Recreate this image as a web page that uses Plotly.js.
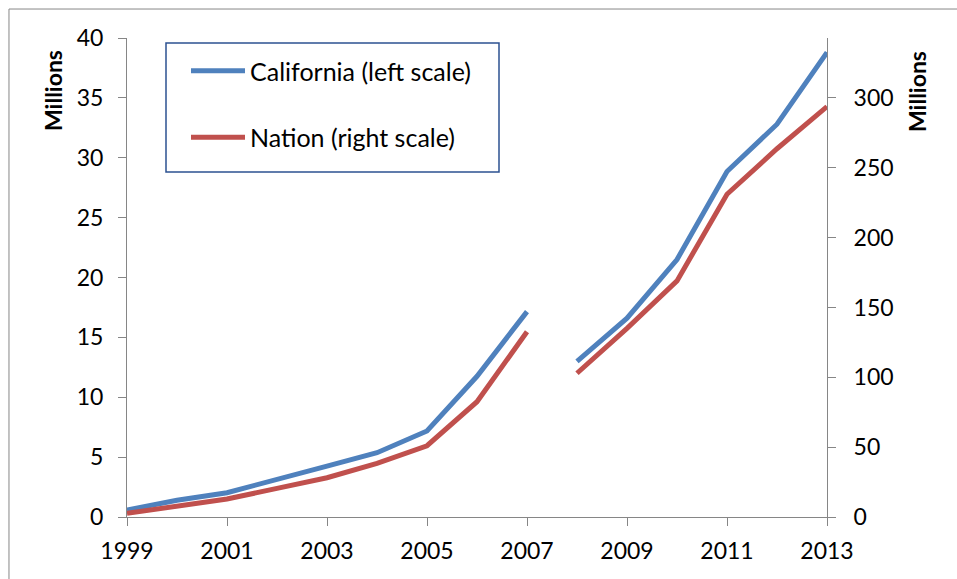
<!DOCTYPE html>
<html>
<head>
<meta charset="utf-8">
<script src="https://cdn.plot.ly/plotly-3.0.1.min.js"></script>
<style>
  html, body { margin: 0; padding: 0; background: #fff; }
  #chart { width: 957px; height: 579px; }
</style>
</head>
<body>
<div id="chart"></div>
<script>
// Years (the series break between 2007 and 2008)
const yearsEarly = [1999, 2000, 2001, 2002, 2003, 2004, 2005, 2006, 2007];
const yearsLate  = [2008, 2009, 2010, 2011, 2012, 2013];

// California, millions (left scale)
const californiaEarly = [0.58, 1.4, 2.03, 3.1, 4.25, 5.37, 7.18, 11.75, 17.15];
const californiaLate  = [13.0, 16.6, 21.5, 28.85, 32.8, 38.8];

// Nation, millions (right scale)
const nationEarly = [2.6, 7.4, 12.9, 20.5, 28.1, 38.4, 51.0, 82.5, 132.6];
const nationLate  = [102.9, 135.0, 169.0, 231.0, 263.6, 293.8];

const xTicks = [1999, 2001, 2003, 2005, 2007, 2009, 2011, 2013];
const leftTicks = [0, 5, 10, 15, 20, 25, 30, 35, 40];
const rightTicks = [0, 50, 100, 150, 200, 250, 300];

const BLUE = '#4F81BD';
const RED = '#C0504D';
const AXIS = '#868686';
const FONT = 'Lato, "Open Sans", "DejaVu Sans", sans-serif';

const traces = [
  { x: yearsEarly, y: californiaEarly, type: 'scatter', mode: 'lines', name: 'California (left scale)',
    legendgroup: 'ca', showlegend: true, line: { color: BLUE, width: 5 }, yaxis: 'y', cliponaxis: false },
  { x: yearsLate, y: californiaLate, type: 'scatter', mode: 'lines', name: 'California (left scale)',
    legendgroup: 'ca', showlegend: false, line: { color: BLUE, width: 5 }, yaxis: 'y', cliponaxis: false },
  { x: yearsEarly, y: nationEarly, type: 'scatter', mode: 'lines', name: 'Nation (right scale)',
    legendgroup: 'us', showlegend: true, line: { color: RED, width: 5 }, yaxis: 'y2', cliponaxis: false },
  { x: yearsLate, y: nationLate, type: 'scatter', mode: 'lines', name: 'Nation (right scale)',
    legendgroup: 'us', showlegend: false, line: { color: RED, width: 5 }, yaxis: 'y2', cliponaxis: false }
];

const layout = {
  width: 957, height: 579,
  margin: { l: 127, r: 130, t: 38, b: 62 },
  paper_bgcolor: '#fff', plot_bgcolor: '#fff',
  font: { family: FONT, size: 23, color: '#000' },
  showlegend: true,
  legend: {
    x: (186 - 127) / 700, y: (517 - 48) / 479, xanchor: 'left', yanchor: 'top',
    borderwidth: 0, bgcolor: 'rgba(0,0,0,0)',
    font: { family: FONT, size: 25, color: '#000' },
    tracegroupgap: 31, itemwidth: 54,
    traceorder: 'grouped'
  },
  xaxis: {
    range: [1999, 2013], tickvals: xTicks, ticktext: xTicks.map(String),
    showgrid: false, zeroline: false, showline: true, linecolor: AXIS, linewidth: 1,
    ticks: 'outside', ticklen: 8, tickcolor: AXIS, tickwidth: 1,
    ticklabelstandoff: 5,
    tickfont: { family: FONT, size: 23, color: '#000' }
  },
  yaxis: {
    range: [0, 40], tickvals: leftTicks,
    showgrid: false, zeroline: false, showline: true, linecolor: AXIS, linewidth: 1,
    ticks: 'outside', ticklen: 8, tickcolor: AXIS, tickwidth: 1,
    ticklabelstandoff: 10,
    tickfont: { family: FONT, size: 23, color: '#000' }
  },
  yaxis2: {
    range: [0, 40 * 300 / 35], tickvals: rightTicks, overlaying: 'y', side: 'right',
    showgrid: false, zeroline: false, showline: true, linecolor: AXIS, linewidth: 1,
    ticks: 'outside', ticklen: 8, tickcolor: AXIS, tickwidth: 1,
    ticklabelstandoff: 13,
    tickfont: { family: FONT, size: 23, color: '#000' }
  },
  annotations: [
    { text: '<b>Millions</b>', xref: 'paper', yref: 'paper', x: (53 - 127) / 700, y: (517 - 91) / 479,
      xanchor: 'center', yanchor: 'middle', textangle: -90, showarrow: false,
      font: { family: FONT, size: 23, color: '#000' } },
    { text: '<b>Millions</b>', xref: 'paper', yref: 'paper', x: (917 - 127) / 700, y: (517 - 92) / 479,
      xanchor: 'center', yanchor: 'middle', textangle: -90, showarrow: false,
      font: { family: FONT, size: 23, color: '#000' } }
  ],
  shapes: [
    { type: 'rect', xref: 'paper', yref: 'paper', x0: -0.1686, x1: 1.5, y0: -0.5, y1: 1.0605,
      line: { color: '#878787', width: 1 }, fillcolor: 'rgba(0,0,0,0)', layer: 'below' },
    { type: 'rect', xref: 'paper', yref: 'paper',
      x0: (166 - 127) / 700, x1: (499 - 127) / 700, y0: (517 - 172) / 479, y1: (517 - 43) / 479,
      line: { color: '#2C5191', width: 1.5 }, fillcolor: '#fff', layer: 'above' }
  ]
};

Plotly.newPlot('chart', traces, layout, { displayModeBar: false, staticPlot: true });
</script>
</body>
</html>
